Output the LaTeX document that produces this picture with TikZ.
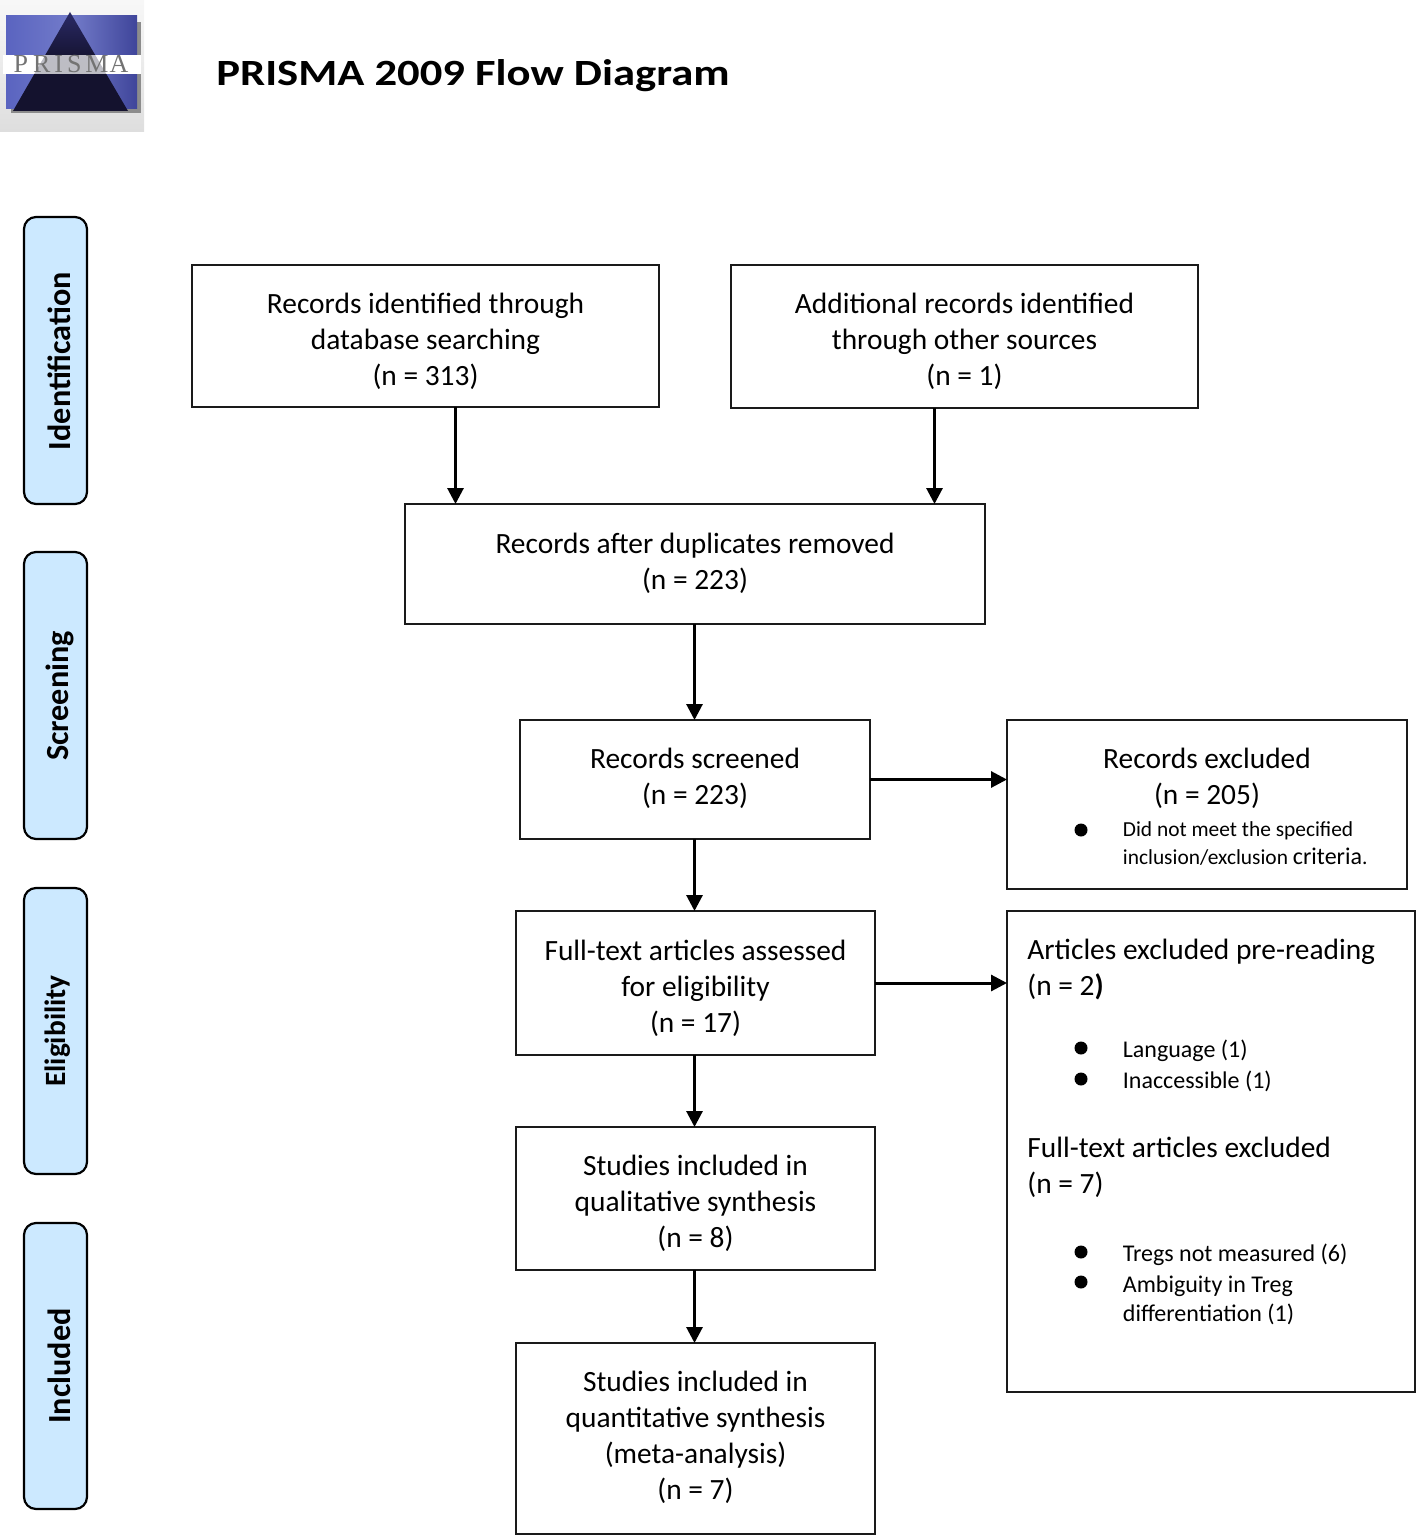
\documentclass[tikz,border=0pt]{standalone}
\usepackage{fontspec}
\setmainfont{Carlito}
\newfontfamily\titlefont[FakeStretch=1.207]{Carlito}
\newfontfamily\logofont{Liberation Serif}
\usetikzlibrary{arrows.meta}
\definecolor{sidefill}{HTML}{CCE9FF}
\definecolor{logoblue}{HTML}{5A64C0}
\definecolor{logoblueb}{HTML}{3F459A}
\definecolor{logodark}{HTML}{14122E}
\definecolor{logomid}{HTML}{2A2A66}
\definecolor{boxline}{HTML}{1A1A1A}
\tikzset{
  x=0.5pt,y=-0.5pt,
  flowbox/.style={draw=boxline,line width=1pt,fill=white,inner sep=0pt,outer sep=0pt},
  flowtext/.style={align=center,inner sep=0pt,font=\fontsize{14.7}{18}\selectfont},
  sidebox/.style={draw=black,line width=1.1pt,fill=sidefill,rounded corners=6pt,inner sep=0pt,outer sep=0pt},
  sidelabel/.style={rotate=90,font=\fontsize{16.1}{18}\selectfont\bfseries},
  arr/.style={draw=black,line width=1.5pt,-{Stealth[length=8pt,width=8pt,inset=0pt]}},
  head/.style={anchor=base west,inner sep=0pt,font=\fontsize{14.7}{18}\selectfont},
  small/.style={anchor=base west,inner sep=0pt,font=\fontsize{12}{14.5}\selectfont},
  smaller/.style={anchor=base west,inner sep=0pt,font=\fontsize{10.7}{14.5}\selectfont},
  dot/.style={circle,fill=black,inner sep=0pt,minimum size=6.5pt},
}
\newcommand{\boxat}[6][flowbox]{\node[#1,minimum width=#4*0.5pt-#3*0.5pt,minimum height=#6*0.5pt-#5*0.5pt,anchor=north west] (#2) at (#3,#5)}
\begin{document}
\begin{tikzpicture}
\useasboundingbox (0,0) rectangle (1416,1535);
% logo
\fill[top color=black!3,bottom color=black!13] (0,0) rectangle (144,132);
\fill[black!45] (11,22) rectangle (141,113);
\shade[left color=logoblue,right color=logoblueb,middle color=logoblue!85!white] (6,16) rectangle (137,55);
\shade[left color=logoblue,right color=logoblueb,middle color=logoblue!85!white] (6,72) rectangle (137,109);
\fill[white] (3,55) rectangle (141,74);
\shade[top color=logomid,bottom color=logodark,middle color=logodark] (70,12) -- (128,111) -- (13,111) -- cycle;
\fill[white,opacity=0.72] (3,55) rectangle (141,74);
\node[inner sep=0pt,text=black!55,font=\logofont\fontsize{13}{13}\selectfont] (logotext) at (71,64) {P\hspace{2.5pt}R\hspace{2pt}I\hspace{2pt}S\hspace{2pt}M\hspace{0.5pt}A};
% title
\node[anchor=base west,inner sep=0pt,font=\titlefont\fontsize{18.5}{22}\selectfont\bfseries] (title) at (216,86) {PRISMA 2009 Flow Diagram};
% side tabs
\boxat[sidebox]{s1}{24}{87}{217}{504} {};
\boxat[sidebox]{s2}{24}{87}{552}{839} {};
\boxat[sidebox]{s3}{24}{87}{888}{1174} {};
\boxat[sidebox]{s4}{24}{87}{1223}{1509} {};
\node[sidelabel] (l1) at (59,361) {Identification};
\node[sidelabel] (l2) at (60,696) {Screening};
\node[sidelabel,font=\fontsize{14.7}{18}\selectfont\bfseries] (l3) at (58,1031) {Eligibility};
\node[sidelabel] (l4) at (59,1366) {Included};
% flow boxes
\boxat{a}{192}{659}{265}{407} {};
\boxat{b}{731}{1198}{265}{408} {};
\boxat{c}{405}{985}{504}{624} {};
\boxat{d}{520}{870}{720}{839} {};
\boxat{e}{1007}{1407}{720}{889} {};
\boxat{f}{516}{875}{911}{1055} {};
\boxat{g}{1007}{1415}{911}{1392} {};
\boxat{h}{516}{875}{1127}{1270} {};
\boxat{i}{516}{875}{1343}{1534} {};
\node[flowtext] (at) at (425.5,341) {Records identified through\\database searching\\(n = 313)};
\node[flowtext] (bt) at (964.5,341) {Additional records identified\\through other sources\\(n = 1)};
\node[flowtext] (ct) at (695,563) {Records after duplicates removed\\(n = 223)};
\node[flowtext] (dt) at (695,778.5) {Records screened\\(n = 223)};
\node[flowtext] (et) at (1207,778) {Records excluded\\(n = 205)};
\node[flowtext] (ft) at (695.5,988) {Full-text articles assessed\\for eligibility\\(n = 17)};
\node[flowtext] (ht) at (695.5,1203.5) {Studies included in\\qualitative synthesis\\(n = 8)};
\node[flowtext] (it) at (695.5,1437.5) {Studies included in\\quantitative synthesis\\(meta-analysis)\\(n = 7)};
% box e text
\node[dot] (ed) at (1081,830) {};
\node[smaller] (e1) at (1122.5,836) {Did not meet the specified};
\node[smaller] (e2) at (1122.5,864) {inclusion/exclusion {\fontsize{12}{14.5}\selectfont criteria}.};
% box g text
\node[head] (g1) at (1027,959) {Articles excluded pre-reading};
\node[head] (g2) at (1027,995) {(n = 2{\bfseries )}};
\node[dot] (gd1) at (1081,1048) {};
\node[small] (g3) at (1122.5,1057) {Language (1)};
\node[dot] (gd2) at (1081,1079) {};
\node[small] (g4) at (1122.5,1088) {Inaccessible (1)};
\node[head] (g5) at (1027,1157) {Full-text articles excluded};
\node[head] (g6) at (1027,1193) {(n = 7)};
\node[dot] (gd3) at (1081,1252) {};
\node[small] (g7) at (1122.5,1261) {Tregs not measured (6)};
\node[dot] (gd4) at (1081,1282) {};
\node[small] (g8) at (1122.5,1292) {Ambiguity in Treg};
\node[small] (g9) at (1122.5,1321) {differentiation (1)};
% connectors
\coordinate (xa) at (455.5,0);
\coordinate (xb) at (934.5,0);
\coordinate (xm) at (694.5,0);
\draw[arr] (xa |- a.south) -- (xa |- c.north);
\draw[arr] (xb |- b.south) -- (xb |- c.north);
\draw[arr] (xm |- c.south) -- (xm |- d.north);
\draw[arr] (xm |- d.south) -- (xm |- f.north);
\draw[arr] (xm |- f.south) -- (xm |- h.north);
\draw[arr] (xm |- h.south) -- (xm |- i.north);
\draw[arr] (d.east) -- (d.east -| e.west);
\draw[arr] (f.east) -- (f.east -| g.west);
\end{tikzpicture}
\end{document}
